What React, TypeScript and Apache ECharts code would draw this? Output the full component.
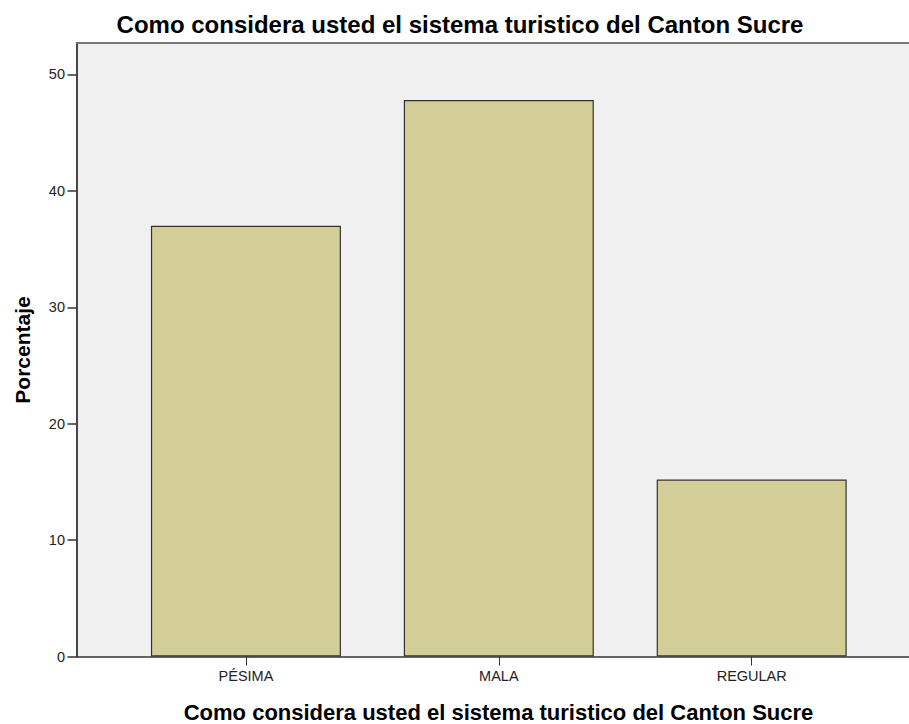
import React, { useEffect, useRef } from "react";
import * as echarts from "echarts";

const categories = ["PÉSIMA", "MALA", "REGULAR"];
const values = [37.0, 47.8, 15.2];
const yTicks = [0, 10, 20, 30, 40, 50];
const titleText = "Como considera usted el sistema turistico del Canton Sucre";
const xAxisTitle = "Como considera usted el sistema turistico del Canton Sucre";
const yAxisTitle = "Porcentaje";

export default function App() {
  const ref = useRef<HTMLDivElement>(null);
  useEffect(() => {
    if (!ref.current) return;
    const chart = echarts.init(ref.current, null, { renderer: "svg" });
    const font = "Arial, 'Liberation Sans', Helvetica, sans-serif";
    const catIdx = categories.map((_, i) => i);
    chart.setOption({
      animation: false,
      backgroundColor: "#ffffff",
      textStyle: { fontFamily: font },
      grid: {
        left: 76.5,
        right: 0,
        top: 43,
        bottom: 67.5,
        show: true,
        backgroundColor: "#f0f0f0",
        borderWidth: 0,
      },
      xAxis: [
        {
          type: "value",
          min: -0.67,
          max: 2.622,
          splitLine: { show: false },
          axisLine: { show: true, onZero: false, lineStyle: { color: "#333333", width: 1.5 } },
          axisTick: {
            show: true,
            length: 9,
            customValues: catIdx,
            lineStyle: { color: "#333333", width: 1 },
          },
          axisLabel: {
            customValues: catIdx,
            formatter: (v: number) => categories[Math.round(v)] ?? "",
            color: "#222222",
            fontSize: 14.5,
            fontFamily: font,
            margin: 12,
          },
        },
        {
          type: "value",
          position: "top",
          min: -0.67,
          max: 2.622,
          splitLine: { show: false },
          axisLine: { show: true, onZero: false, lineStyle: { color: "#777777", width: 2 } },
          axisTick: { show: false },
          axisLabel: { show: false },
        },
      ],
      yAxis: {
        type: "value",
        min: 0,
        max: 52.7,
        splitLine: { show: false },
        axisLine: { show: true, onZero: false, lineStyle: { color: "#333333", width: 1.8 } },
        axisTick: {
          show: true,
          length: 9,
          customValues: yTicks,
          lineStyle: { color: "#333333", width: 1.5 },
        },
        axisLabel: {
          customValues: yTicks,
          color: "#222222",
          fontSize: 14.5,
          fontFamily: font,
          margin: 11.5,
        },
      },
      graphic: [
        {
          type: "text",
          x: 460,
          y: 24,
          style: {
            text: titleText,
            fontSize: 24,
            fontWeight: "bold",
            fontFamily: font,
            fill: "#000000",
            textAlign: "center",
            textVerticalAlign: "middle",
          },
        },
        {
          type: "text",
          x: 498.5,
          y: 712,
          style: {
            text: xAxisTitle,
            fontSize: 22,
            fontWeight: "bold",
            fontFamily: font,
            fill: "#000000",
            textAlign: "center",
            textVerticalAlign: "middle",
          },
        },
        {
          type: "text",
          x: 22,
          y: 350,
          rotation: Math.PI / 2,
          style: {
            text: yAxisTitle,
            fontSize: 21,
            fontWeight: "bold",
            fontFamily: font,
            fill: "#000000",
            textAlign: "center",
            textVerticalAlign: "middle",
          },
        },
      ],
      series: [
        {
          type: "bar",
          xAxisIndex: 0,
          barWidth: 190,
          data: values.map((v, i) => [i, v]),
          itemStyle: { color: "#d3ce97", borderColor: "#333333", borderWidth: 1.2 },
        },
      ],
    });
    return () => chart.dispose();
  }, []);
  return (
    <div
      ref={ref}
      style={{ position: "fixed", left: 0, top: 0, width: 909, height: 724 }}
    />
  );
}
